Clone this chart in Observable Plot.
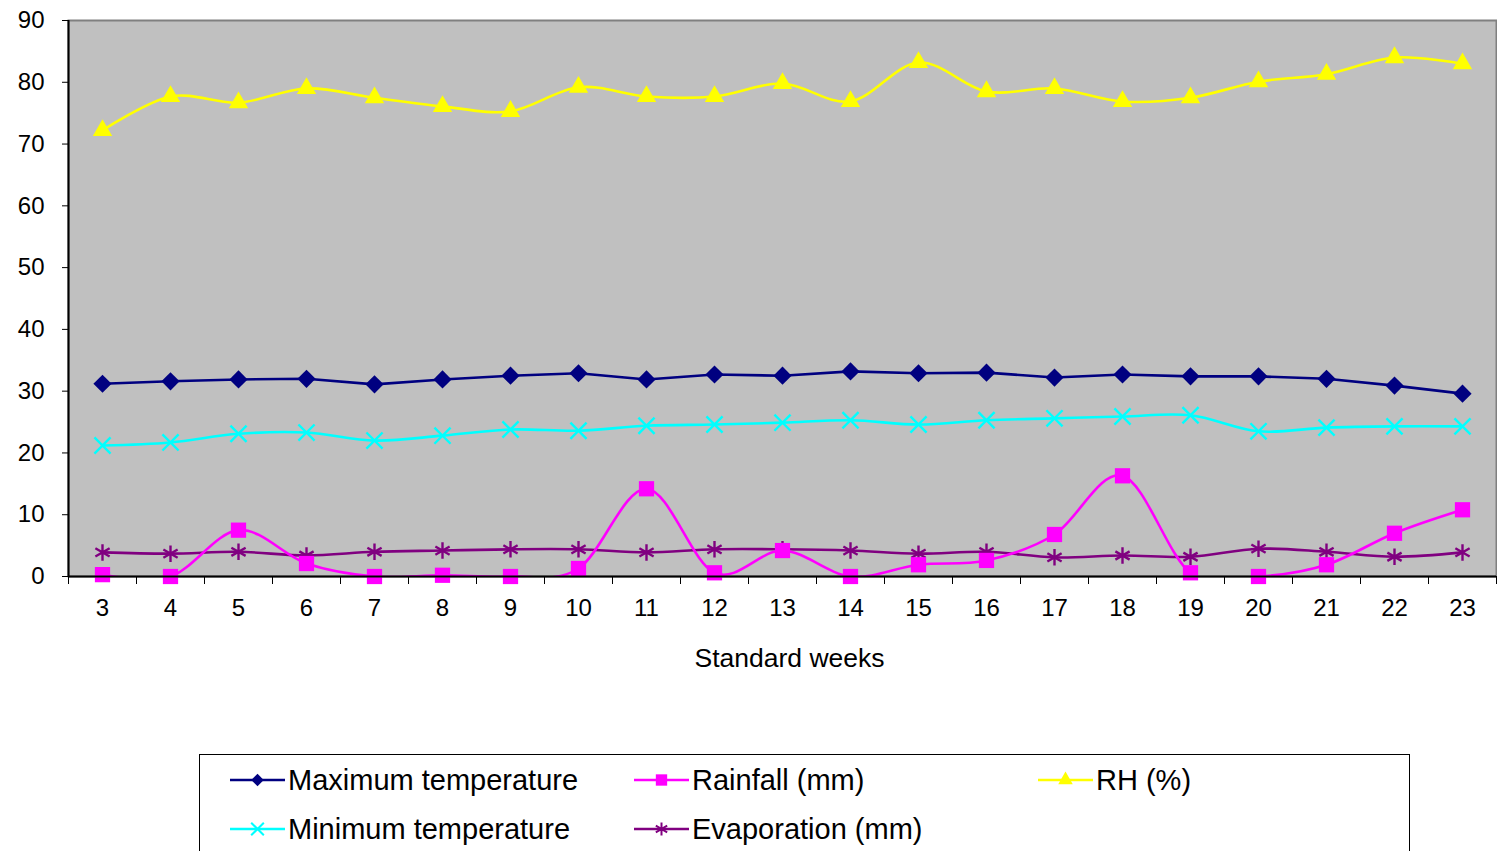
<!DOCTYPE html>
<html>
<head>
<meta charset="utf-8">
<script src="https://cdn.jsdelivr.net/npm/d3@7"></script>
<script src="https://cdn.jsdelivr.net/npm/@observablehq/plot@0.6"></script>
<style>
  html, body { margin: 0; padding: 0; background: #fff; width: 1497px; height: 851px; overflow: hidden; }
  body { font-family: "Liberation Sans", Arial, sans-serif; position: relative; }
  #chart { position: absolute; left: 0; top: 0; }
  #legend { position: absolute; left: 199px; top: 754px; width: 1211px; height: 140px; border: 1.5px solid #000; box-sizing: border-box; background: #fff; }
  .item { position: absolute; display: flex; align-items: center; font-size: 29px; color: #000; white-space: nowrap; }
  .item svg { display: block; margin-right: 3px; }
</style>
</head>
<body>
<div id="chart"></div>
<div id="legend"></div>
<script>
const weeks = [3,4,5,6,7,8,9,10,11,12,13,14,15,16,17,18,19,20,21,22,23];
const maxTemp = [31.2,31.6,31.9,32.0,31.1,31.9,32.5,32.9,31.9,32.7,32.5,33.2,32.9,33.0,32.2,32.7,32.4,32.4,32.0,30.9,29.6];
const minTemp = [21.2,21.7,23.1,23.3,22.0,22.8,23.8,23.6,24.4,24.6,24.9,25.3,24.6,25.3,25.6,25.9,26.1,23.5,24.1,24.3,24.3];
const rainfall = [0.3,0.0,7.5,2.1,0.0,0.2,0.0,1.3,14.2,0.6,4.2,0.0,1.9,2.6,6.8,16.3,0.6,0.0,1.9,7.0,10.8];
const evaporation = [3.9,3.7,4.0,3.4,4.0,4.2,4.4,4.4,3.9,4.4,4.4,4.2,3.7,4.0,3.1,3.4,3.2,4.5,4.0,3.2,3.9];
const rh = [72.2,77.7,76.7,79.0,77.5,76.1,75.3,79.2,77.7,77.7,79.8,76.9,83.2,78.5,79.0,76.9,77.5,80.1,81.3,84.0,83.0];
const yTicks = [0,10,20,30,40,50,60,70,80,90];
const xLabel = "Standard weeks";

const series = [
  {name: "Maximum temperature", values: maxTemp, color: "#000080", symbol: "diamond2", r: 8.2, filled: true, legendR: 5.6},
  {name: "Rainfall (mm)", values: rainfall, color: "#FF00FF", symbol: "square", r: 8.6, filled: true, legendR: 6.4},
  {name: "RH (%)", values: rh, color: "#FFFF00", symbol: "triangle", r: 7.2, filled: true, legendR: 5.4},
  {name: "Minimum temperature", values: minTemp, color: "#00FFFF", symbol: "times", r: 7.4, filled: false, legendR: 5.8},
  {name: "Evaporation (mm)", values: evaporation, color: "#800080", symbol: "asterisk", r: 7.8, filled: false, legendR: 6.2}
];

const drawOrder = ["Maximum temperature", "Minimum temperature", "Evaporation (mm)", "Rainfall (mm)", "RH (%)"];

const marks = [
  Plot.frame({fill: "#C0C0C0", stroke: "#808080", strokeWidth: 2}),
];
for (const nm of drawOrder) {
  const s = series.find(d => d.name === nm);
  const data = weeks.map((w, i) => ({week: w, value: s.values[i]}));
  marks.push(Plot.line(data, {x: "week", y: "value", stroke: s.color, strokeWidth: 2.6, curve: nm === "Maximum temperature" ? "linear" : "cardinal", tension: 0, clip: true}));
  marks.push(Plot.dot(data, {x: "week", y: "value", symbol: () => s.symbol, r: s.r,
    fill: s.filled ? s.color : "none", stroke: s.color, strokeWidth: s.filled ? 0 : 2.4}));
}
marks.push(
  Plot.ruleX([2.5], {stroke: "#000", strokeWidth: 2}),
  Plot.ruleY([0], {stroke: "#000", strokeWidth: 2}),
  Plot.axisY(yTicks, {tickSize: 6, tickPadding: 18, fontSize: 24, label: null, stroke: "#000"}),
  Plot.axisX(d3.range(2.5, 24, 1), {tickSize: 8, tickFormat: () => "", label: null, stroke: "#000"}),
  Plot.axisX(weeks, {tickSize: 0, tickPadding: 22, fontSize: 24, label: null}),
  Plot.text([xLabel], {frameAnchor: "bottom", dx: 7, dy: 90, fontSize: 26.5, fill: "#000"})
);

const chart = Plot.plot({
  width: 1497,
  height: 690,
  marginLeft: 68,
  marginRight: 1,
  marginTop: 20,
  marginBottom: 114,
  style: {fontFamily: "'Liberation Sans', Arial, sans-serif", color: "#000", background: "transparent"},
  x: {type: "linear", domain: [2.5, 23.5]},
  y: {domain: [0, 90]},
  marks
});
document.getElementById("chart").appendChild(chart);

// Legend
const legend = document.getElementById("legend");
const symMap = {diamond2: d3.symbolDiamond2, square: d3.symbolSquare, triangle: d3.symbolTriangle, times: d3.symbolTimes, asterisk: d3.symbolAsterisk};
const positions = {
  "Maximum temperature": [30, 25],
  "Rainfall (mm)": [434, 25],
  "RH (%)": [838, 25],
  "Minimum temperature": [30, 74],
  "Evaporation (mm)": [434, 74]
};
for (const s of series) {
  const [lx, ly] = positions[s.name];
  const div = document.createElement("div");
  div.className = "item";
  div.style.left = lx + "px";
  div.style.top = (ly - 20) + "px";
  div.style.height = "40px";
  const size = Math.PI * s.legendR * s.legendR;
  const path = d3.symbol(symMap[s.symbol], size)();
  div.innerHTML = `<svg width="55" height="24" viewBox="0 0 55 24">
    <line x1="0" y1="12" x2="55" y2="12" stroke="${s.color}" stroke-width="2.6"/>
    <path d="${path}" transform="translate(27.5,12)" fill="${s.filled ? s.color : "none"}" stroke="${s.color}" stroke-width="${s.filled ? 0 : 2}"/>
  </svg><span>${s.name}</span>`;
  legend.appendChild(div);
}
</script>
</body>
</html>
